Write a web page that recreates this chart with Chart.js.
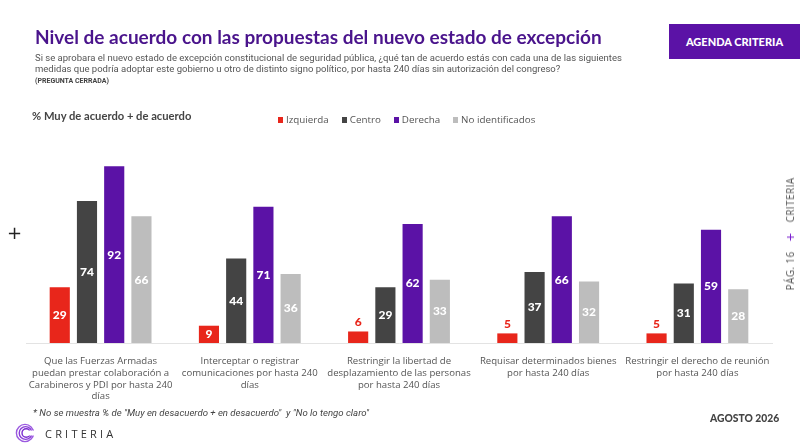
<!DOCTYPE html>
<html><head><meta charset="utf-8">
<script src="https://cdn.jsdelivr.net/npm/chart.js@4.4.1/dist/chart.umd.min.js"></script>
<style>
html,body{margin:0;padding:0;background:#fff;}
#wrap{position:relative;width:800px;height:448px;overflow:hidden;font-family:Lato,"Open Sans",sans-serif;}
canvas{position:absolute;left:0;top:0;}
.abs{position:absolute;white-space:nowrap;}
#title{left:35px;top:25px;font-size:19px;font-weight:700;color:#4a148c;font-family:Lato,sans-serif;}
#sub{left:35px;top:52px;font-size:9.5px;color:#555;font-family:Roboto,sans-serif;line-height:11px;}
#sub b{font-size:7px;color:#444;}
#badge{left:669px;top:24px;width:131px;height:35px;background:#5b12a6;color:#fff;font-weight:900;font-size:11px;display:flex;align-items:center;justify-content:center;font-family:Lato,sans-serif;}
#ytitle{left:32px;top:109px;font-size:11.2px;font-weight:700;color:#444;}
#legend{left:278px;top:113px;font-size:9.8px;color:#555;font-family:"Open Sans",sans-serif;}
#legend span.sq{display:inline-block;width:5px;height:6px;margin-right:3px;vertical-align:0px;}
#legend span.it{margin-right:13px;}
#plus{left:7px;top:222px;font-size:18px;color:#222;font-family:"DejaVu Sans",sans-serif;}
#side{left:790px;top:234px;transform:translate(-50%,-50%) rotate(-90deg);font-size:10px;color:#555;font-family:"Open Sans",sans-serif;letter-spacing:0.4px;}
#side i{font-style:normal;color:#7b1fd0;font-size:15px;margin:0 10px;vertical-align:-2px;}
#note{left:33px;top:407px;font-size:9.6px;font-style:italic;color:#444;font-family:Roboto,sans-serif;}
#fecha{left:710px;top:412px;font-size:10.3px;font-weight:900;color:#444;font-family:Lato,sans-serif;}
#logo{left:15px;top:423px;}
#logotxt{left:45px;top:426px;font-size:11px;letter-spacing:3.2px;color:#333;font-family:"Open Sans",sans-serif;}
</style></head>
<body><div id="wrap">
<canvas id="c" width="800" height="448"></canvas>
<div class="abs" id="title">Nivel de acuerdo con las propuestas del nuevo estado de excepción</div>
<div class="abs" id="sub">Si se aprobara el nuevo estado de excepción constitucional de seguridad pública, ¿qué tan de acuerdo estás con cada una de las siguientes<br>medidas que podría adoptar este gobierno u otro de distinto signo político, por hasta 240 días sin autorización del congreso?<br><b>(PREGUNTA CERRADA)</b></div>
<div class="abs" id="badge">AGENDA CRITERIA</div>
<div class="abs" id="ytitle">% Muy de acuerdo + de acuerdo</div>
<div class="abs" id="legend"></div>
<div class="abs" id="plus">+</div>
<div class="abs" id="side">PÁG. 16<i>+</i>CRITERIA</div>
<div class="abs" id="note">* No se muestra % de "Muy en desacuerdo + en desacuerdo"&nbsp; y "No lo tengo claro"</div>
<div class="abs" id="fecha">AGOSTO 2026</div>
<svg class="abs" id="logo" width="22" height="20" viewBox="0 0 22 20">
<circle cx="10" cy="10" r="8.6" fill="none" stroke="#9b59e0" stroke-width="1.4"/>
<circle cx="10.6" cy="10" r="6.4" fill="none" stroke="#8a3fd8" stroke-width="1.4"/>
<circle cx="11.2" cy="10" r="4.2" fill="none" stroke="#7a2bd0" stroke-width="1.4"/>
<rect x="14" y="7.5" width="8" height="5" fill="#fff"/>
</svg>
<div class="abs" id="logotxt">CRITERIA</div>
</div>
<script>
const categories = [
  ["Que las Fuerzas Armadas","puedan prestar colaboración a","Carabineros y PDI por hasta 240","días"],
  ["Interceptar o registrar","comunicaciones por hasta 240","días"],
  ["Restringir la libertad de","desplazamiento de las personas","por hasta 240 días"],
  ["Requisar determinados bienes","por hasta 240 días"],
  ["Restringir el derecho de reunión","por hasta 240 días"]
];
const seriesNames = ["Izquierda","Centro","Derecha","No identificados"];
const izquierda = [29, 9, 6, 5, 5];
const centro = [74, 44, 29, 37, 31];
const derecha = [92, 71, 62, 66, 59];
const noIdentificados = [66, 36, 33, 32, 28];
const colors = ["#e8261b","#444444","#5b12a6","#bdbdbd"];
const allSeries = [izquierda, centro, derecha, noIdentificados];

const lg = document.getElementById('legend');
seriesNames.forEach((n,i)=>{
  lg.innerHTML += '<span class="sq" style="background:'+colors[i]+'"></span><span class="it">'+n+'</span>';
});

const valueLabels = {
  id:'valueLabels',
  afterDatasetsDraw(chart){
    const ctx = chart.ctx;
    ctx.save();
    ctx.font = '900 12px Lato, sans-serif';
    ctx.textAlign = 'center';
    ctx.textBaseline = 'middle';
    chart.data.datasets.forEach((ds,di)=>{
      const meta = chart.getDatasetMeta(di);
      meta.data.forEach((bar,i)=>{
        const v = ds.data[i];
        if (v < 8) {
          ctx.fillStyle = colors[0];
          ctx.fillText(String(v), bar.x, bar.y - 9);
        } else {
          ctx.fillStyle = '#ffffff';
          ctx.fillText(String(v), bar.x, (bar.y + bar.base)/2);
        }
      });
    });
    ctx.restore();
  }
};

new Chart(document.getElementById('c'), {
  type:'bar',
  data:{
    labels: categories,
    datasets: seriesNames.map((n,i)=>({
      label:n, data: allSeries[i], backgroundColor: colors[i],
      categoryPercentage:0.73, barPercentage:0.74
    }))
  },
  options:{
    responsive:false, animation:false,
    layout:{padding:{left:26, right:28, top:151, bottom:35}},
    plugins:{legend:{display:false}, tooltip:{enabled:false}},
    scales:{
      y:{display:false, min:0, max:100},
      x:{
        grid:{display:false},
        border:{display:true, color:'#e3e3e3', width:1},
        ticks:{color:'#555', font:{family:'"Open Sans", sans-serif', size:9.6, lineHeight:1.2}, padding:5, maxRotation:0, autoSkip:false},
        afterFit:(axis)=>{axis.height = 70;}
      }
    }
  },
  plugins:[valueLabels]
});
</script>
</body></html>
